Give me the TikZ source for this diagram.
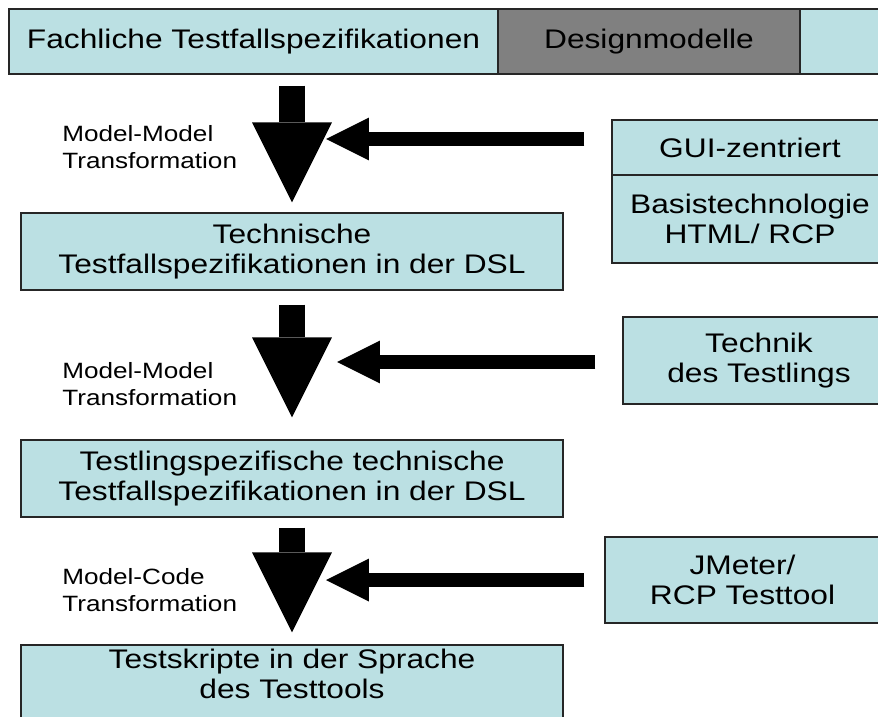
\documentclass[tikz,border=0pt]{standalone}
\usepackage{fontspec}
\setmainfont[FakeStretch=1.18]{Liberation Sans}
\usetikzlibrary{arrows.meta}
\definecolor{boxcyan}{RGB}{187,224,227}
\definecolor{designgray}{RGB}{128,128,128}
\tikzset{
  box/.style={draw=black!85, line width=0.7pt, fill=boxcyan, align=center,
    inner sep=0pt, font=\fontsize{15.3}{17.1}\selectfont},
  lbl/.style={align=left, anchor=west, inner sep=0pt,
    font=\fontsize{12.6}{15.4}\selectfont},
  downarrow/.style={line width=0.52cm,
    -{Triangle[width=1.6cm,length=1.6cm,line width=0pt]}},
  sidearrow/.style={line width=0.28cm,
    -{Triangle[width=0.86cm,length=0.86cm,line width=0pt]}}
}
\begin{document}
\begin{tikzpicture}[x=0.02cm,y=-0.02cm]
\clip (0,0) rectangle (878,716);
% top row
\node[box, minimum width=9.78cm, minimum height=1.3cm] (fach) at (253.5,41.5)
  {Fachliche Testfallspezifikationen};
\node[box, fill=designgray, minimum width=6.04cm, minimum height=1.3cm] (design)
  at (649,41.5) {Designmodelle};
\node[box, minimum width=2cm, minimum height=1.3cm] (rest) at (850,41.5) {};
% left column
\node[box, minimum width=10.84cm, minimum height=1.54cm] (tech) at (292,251.5)
  {Technische\\Testfallspezifikationen in der DSL};
\node[box, minimum width=10.84cm, minimum height=1.54cm] (tling) at (292,478.5)
  {Testlingspezifische technische\\Testfallspezifikationen in der DSL};
\node[box, minimum width=10.84cm, minimum height=1.54cm, text depth=0.4cm] (skript)
  at (292,683.5) {Testskripte in der Sprache\\des Testtools};
% right column
\node[box, minimum width=5.52cm, minimum height=1.1cm] (gui) at (750,147.5)
  {GUI-zentriert};
\node[box, minimum width=5.52cm, minimum height=1.76cm] (basis) at (750,219)
  {Basistechnologie\\HTML/ RCP};
\node[box, minimum width=5.44cm, minimum height=1.74cm] (technik) at (759,360.5)
  {Technik\\des Testlings};
\node[box, minimum width=5.5cm, minimum height=1.72cm] (jmeter) at (742.5,580)
  {JMeter/\\RCP Testtool};
% labels
\foreach \i/\y/\txt in {1/147/Model-Model, 2/384/Model-Model, 3/590/Model-Code}
  \node[lbl] (lab\i) at (62,\y) {\txt\\Transformation};
% arrows
\draw[downarrow, shorten <=0.22cm, shorten >=0.2cm] (tech.north |- fach.south) -- (tech.north);
\draw[downarrow, shorten <=0.28cm, shorten >=0.44cm] (tech.south) -- (tling.north);
\draw[downarrow, shorten <=0.2cm, shorten >=0.24cm] (tling.south) -- (skript.north);
\coordinate (t1) at (326,139);
\coordinate (t2) at (337,362);
\coordinate (t3) at (326,580);
\draw[sidearrow, shorten <=0.54cm] (t1 -| gui.west) -- (t1);
\draw[sidearrow, shorten <=0.54cm] (t2 -| technik.west) -- (t2);
\draw[sidearrow, shorten <=0.4cm] (t3 -| jmeter.west) -- (t3);
\end{tikzpicture}
\end{document}
